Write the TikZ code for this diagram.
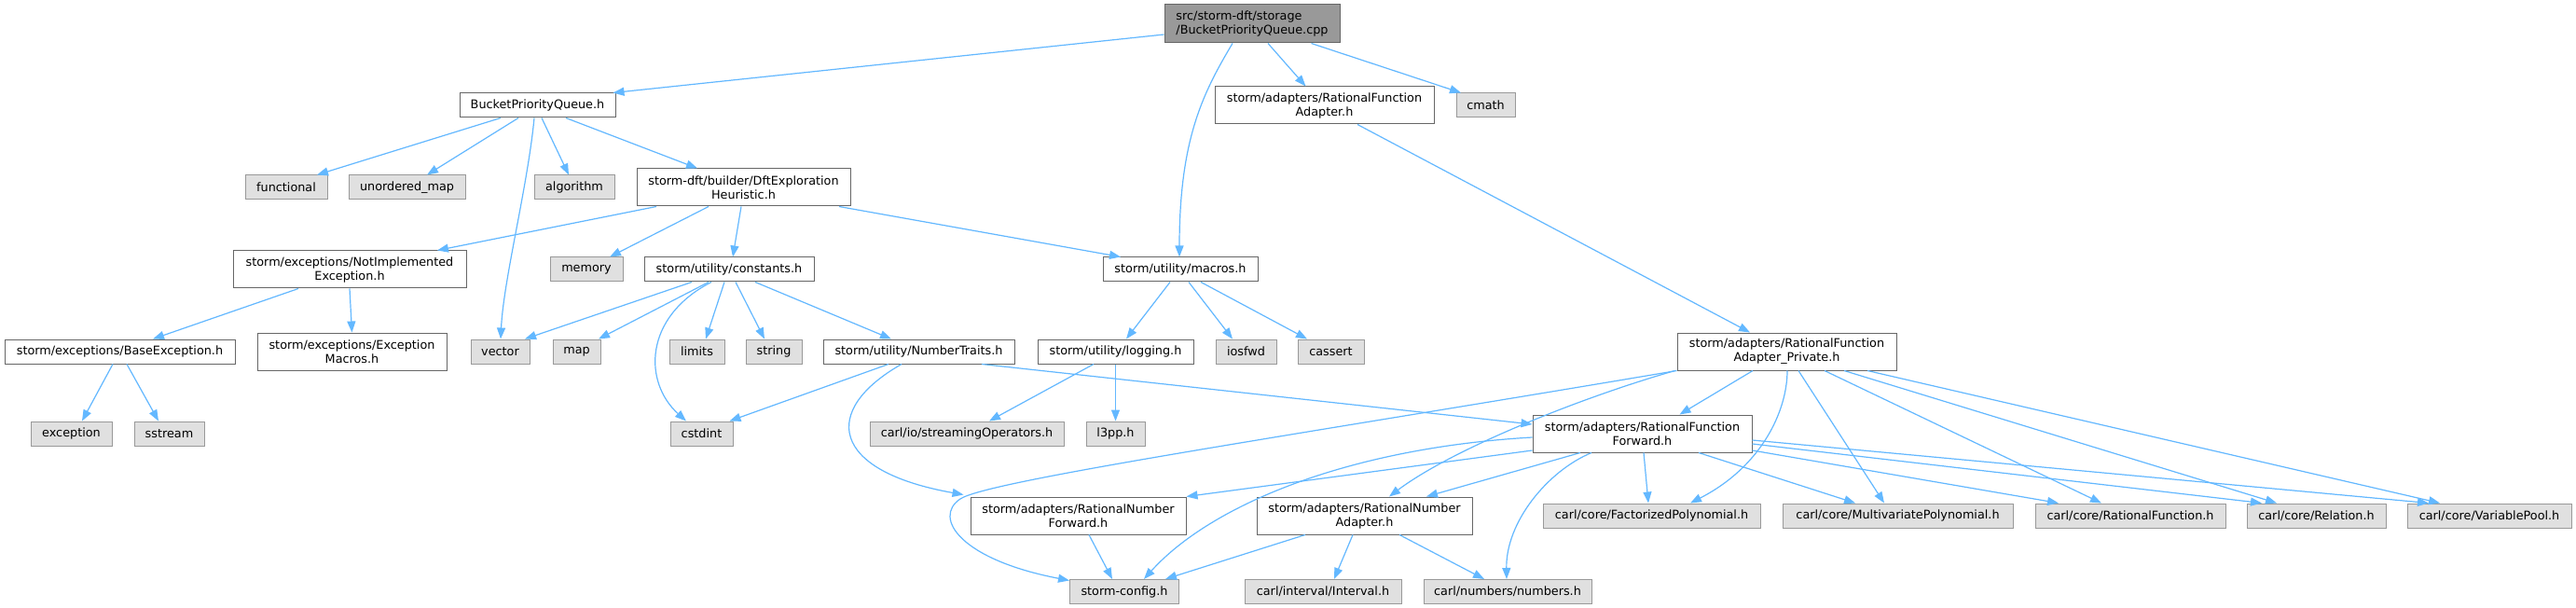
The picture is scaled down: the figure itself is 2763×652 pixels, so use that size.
\documentclass[tikz,border=0pt]{standalone}
\usepackage{fontspec}
\setmainfont{DejaVu Sans}
\usetikzlibrary{arrows.meta}
\definecolor{cforty}{HTML}{666666}
\definecolor{csixty}{HTML}{999999}
\definecolor{cfill}{HTML}{E0E0E0}
\definecolor{crootfill}{HTML}{999999}
\definecolor{cedge}{HTML}{63B8FF}
\tikzset{
  box/.style={draw=cforty, fill=white, line width=1pt, inner sep=0pt, minimum height=26pt, align=center, font=\fontsize{12.8}{15}\selectfont},
  sys/.style={box, draw=csixty, fill=cfill},
  tall/.style={minimum height=40pt},
  rootbox/.style={box, fill=crootfill, align=left, minimum height=41pt},
  e/.style={draw=cedge, line width=1.2pt, -{Triangle[length=12pt,width=9pt]}},
}
\begin{document}
\begin{tikzpicture}[x=1pt,y=-1pt]
\useasboundingbox (0,0) rectangle (2763,652);
\fill[white] (0,0) rectangle (2763,652);
% nodes
\node[rootbox, minimum width=188pt] (root) at (1343,25.5) {src/storm-dft/storage\\/BucketPriorityQueue.cpp};
\node[box, minimum width=167pt] (bpq) at (576.5,113) {BucketPriorityQueue.h};
\node[sys, minimum width=88pt] (functional) at (307,201) {functional};
\node[sys, minimum width=125pt] (umap) at (436.5,201) {unordered\_map};
\node[sys, minimum width=86pt] (algorithm) at (616,201) {algorithm};
\node[box, tall, minimum width=229pt] (dft) at (797.5,201) {storm-dft/builder/DftExploration\\Heuristic.h};
\node[box, tall, minimum width=250pt] (notimpl) at (375,289) {storm/exceptions/NotImplemented\\Exception.h};
\node[sys, minimum width=78pt] (memory) at (629,289) {memory};
\node[box, minimum width=182pt] (constants) at (782,289) {storm/utility/constants.h};
\node[box, tall, minimum width=235pt] (rfad) at (1420.5,113) {storm/adapters/RationalFunction\\Adapter.h};
\node[sys, minimum width=63pt] (cmath) at (1593.5,113) {cmath};
\node[box, minimum width=166pt] (macros) at (1266,289) {storm/utility/macros.h};
\node[box, minimum width=247pt] (baseexc) at (128.5,377) {storm/exceptions/BaseException.h};
\node[box, tall, minimum width=203pt] (excmacros) at (377.5,377) {storm/exceptions/Exception\\Macros.h};
\node[sys, minimum width=63pt] (vector) at (536.5,377) {vector};
\node[sys, minimum width=51pt] (map) at (618.5,377) {map};
\node[sys, minimum width=59pt] (limits) at (747.5,377) {limits};
\node[sys, minimum width=60pt] (string) at (830,377) {string};
\node[box, minimum width=205pt] (numtraits) at (985.5,377) {storm/utility/NumberTraits.h};
\node[box, minimum width=167pt] (logging) at (1196.5,377) {storm/utility/logging.h};
\node[sys, minimum width=65pt] (iosfwd) at (1336.5,377) {iosfwd};
\node[sys, minimum width=71pt] (cassert) at (1427.5,377) {cassert};
\node[box, tall, minimum width=235pt] (adpriv) at (1916.5,377) {storm/adapters/RationalFunction\\Adapter\_Private.h};
\node[sys, minimum width=87pt] (exception) at (76.5,465) {exception};
\node[sys, minimum width=75pt] (sstream) at (181.5,465) {sstream};
\node[sys, minimum width=67pt] (cstdint) at (752.5,465) {cstdint};
\node[sys, minimum width=208pt] (streamops) at (1037,465) {carl/io/streamingOperators.h};
\node[sys, minimum width=63pt] (l3pp) at (1196.5,465) {l3pp.h};
\node[box, tall, minimum width=235pt] (rffwd) at (1761.5,465) {storm/adapters/RationalFunction\\Forward.h};
\node[box, tall, minimum width=231pt] (rnfwd) at (1156.5,553) {storm/adapters/RationalNumber\\Forward.h};
\node[box, tall, minimum width=231pt] (rnad) at (1463.5,553) {storm/adapters/RationalNumber\\Adapter.h};
\node[sys, minimum width=233pt] (factpoly) at (1771.5,553) {carl/core/FactorizedPolynomial.h};
\node[sys, minimum width=247pt] (multipoly) at (2035.5,553) {carl/core/MultivariatePolynomial.h};
\node[sys, minimum width=204pt] (ratfunc) at (2285,553) {carl/core/RationalFunction.h};
\node[sys, minimum width=149pt] (relation) at (2484.5,553) {carl/core/Relation.h};
\node[sys, minimum width=176pt] (varpool) at (2670,553) {carl/core/VariablePool.h};
\node[sys, minimum width=117pt] (config) at (1206,634.5) {storm-config.h};
\node[sys, minimum width=168pt] (interval) at (1419,634.5) {carl/interval/Interval.h};
\node[sys, minimum width=180pt] (numbers) at (1617,634.5) {carl/numbers/numbers.h};
% edges
\draw[e] ([yshift=-11.5pt]root.west) -- ([xshift=-3pt]bpq.north east);
\draw[e] ([xshift=-21pt]root.south) .. controls (1290,100) and (1265,150) .. ([xshift=-1pt]macros.north);
\draw[e] ([xshift=17pt]root.south) -- ([xshift=-20pt]rfad.north);
\draw[e] ([xshift=63.5pt]root.south) -- ([xshift=-26.5pt]cmath.north);
\draw[e] ([xshift=-39.5pt]bpq.south) -- ([xshift=33pt]functional.north);
\draw[e] ([xshift=-20.5pt]bpq.south) -- ([xshift=21.5pt]umap.north);
\draw[e] ([xshift=4.5pt]bpq.south) -- ([xshift=-6pt]algorithm.north);
\draw[e] ([xshift=30.5pt]bpq.south) -- ([xshift=-49.5pt]dft.north);
\draw[e] ([xshift=-3.5pt]bpq.south) .. controls (566,200) and (540,300) .. ([xshift=0.5pt]vector.north);
\draw[e] ([xshift=-93.5pt]dft.south) -- ([xshift=94pt]notimpl.north);
\draw[e] ([xshift=-37.5pt]dft.south) -- ([xshift=25pt]memory.north);
\draw[e] ([xshift=-2.5pt]dft.south) -- ([xshift=4pt]constants.north);
\draw[e] ([xshift=102.5pt]dft.south) -- ([xshift=-64pt]macros.north);
\draw[e] ([xshift=-55pt]notimpl.south) -- ([xshift=35.5pt]baseexc.north);
\draw[e] (notimpl.south) -- (excmacros.north);
\draw[e] ([xshift=-7.5pt]baseexc.south) -- ([xshift=11.5pt]exception.north);
\draw[e] ([xshift=7.5pt]baseexc.south) -- ([xshift=-11.5pt]sstream.north);
\draw[e] ([xshift=-40pt]constants.south) -- ([xshift=26.5pt]vector.north);
\draw[e] ([xshift=-22pt]constants.south) -- ([xshift=23.5pt]map.north);
\draw[e] ([xshift=-19pt]constants.south) .. controls (690,340) and (690,410) .. ([xshift=-16.5pt]cstdint.north);
\draw[e] ([xshift=-5pt]constants.south) -- ([xshift=9.5pt]limits.north);
\draw[e] ([xshift=7pt]constants.south) -- ([xshift=-10pt]string.north);
\draw[e] ([xshift=28pt]constants.south) -- ([xshift=-29.5pt]numtraits.north);
\draw[e] ([xshift=-11pt]macros.south) -- ([xshift=11.5pt]logging.north);
\draw[e] ([xshift=9pt]macros.south) -- ([xshift=-14.5pt]iosfwd.north);
\draw[e] ([xshift=22pt]macros.south) -- ([xshift=-25.5pt]cassert.north);
\draw[e] ([xshift=-32.5pt]numtraits.south) -- ([xshift=30pt]cstdint.north);
\draw[e] ([xshift=-18.5pt]numtraits.south) .. controls (880,440) and (890,505) .. ([xshift=-7pt,yshift=2pt]rnfwd.north west);
\draw[e] ([xshift=67.5pt]numtraits.south) -- ([yshift=10pt]rffwd.west);
\draw[e] ([xshift=-23.5pt]logging.south) -- ([xshift=24pt]streamops.north);
\draw[e] (logging.south) -- (l3pp.north);
\draw[e] ([xshift=35.5pt]rfad.south) -- ([xshift=-39.5pt]adpriv.north);
\draw[e] ([xshift=-36.5pt]adpriv.south) -- ([xshift=40pt]rffwd.north);
\draw[e] (adpriv.south west) .. controls (1400,465) and (1060,515) .. (1030,535) .. controls (1000,555) and (1030,600) .. ([yshift=12pt]config.west);
\draw[e] ([xshift=-2pt]adpriv.south west) .. controls (1700,425) and (1560,480) .. ([xshift=26.5pt]rnad.north);
\draw[e] ([xshift=0.5pt]adpriv.south) .. controls (1917,440) and (1890,500) .. ([xshift=41.5pt]factpoly.north);
\draw[e] ([xshift=12.5pt]adpriv.south) -- ([xshift=-14.5pt]multipoly.north);
\draw[e] ([xshift=40.5pt]adpriv.south) -- ([xshift=-31pt]ratfunc.north);
\draw[e] ([xshift=61.5pt]adpriv.south) -- ([xshift=-42.5pt]relation.north);
\draw[e] ([xshift=86.5pt]adpriv.south) -- ([xshift=-53pt]varpool.north);
\draw[e] ([yshift=-18pt]rffwd.west) -- (rnfwd.north east);
\draw[e] ([xshift=-66.5pt]rffwd.south) -- ([xshift=66.5pt]rnad.north);
\draw[e] ([yshift=-4pt]rffwd.west) .. controls (1450,480) and (1300,540) .. ([xshift=21pt]config.north);
\draw[e] ([xshift=-54.5pt]rffwd.south) .. controls (1660,505) and (1615,560) .. ([xshift=-1pt]numbers.north);
\draw[e] ([xshift=1.5pt]rffwd.south) -- ([xshift=-3.5pt]factpoly.north);
\draw[e] ([xshift=60.5pt]rffwd.south) -- ([xshift=-45.5pt]multipoly.north);
\draw[e] ([yshift=-18pt]rffwd.east) -- ([xshift=-77pt]ratfunc.north);
\draw[e] ([yshift=-11pt]rffwd.east) -- ([xshift=-58.5pt]relation.north);
\draw[e] ([yshift=-7pt]rffwd.east) -- ([xshift=-65pt]varpool.north);
\draw[e] ([xshift=11.5pt]rnfwd.south) -- ([xshift=-13pt]config.north);
\draw[e] ([xshift=-63.5pt]rnad.south) -- ([xshift=44pt]config.north);
\draw[e] ([xshift=-12.5pt]rnad.south) -- ([xshift=12pt]interval.north);
\draw[e] ([xshift=37.5pt]rnad.south) -- ([xshift=-25pt]numbers.north);
\end{tikzpicture}
\end{document}
